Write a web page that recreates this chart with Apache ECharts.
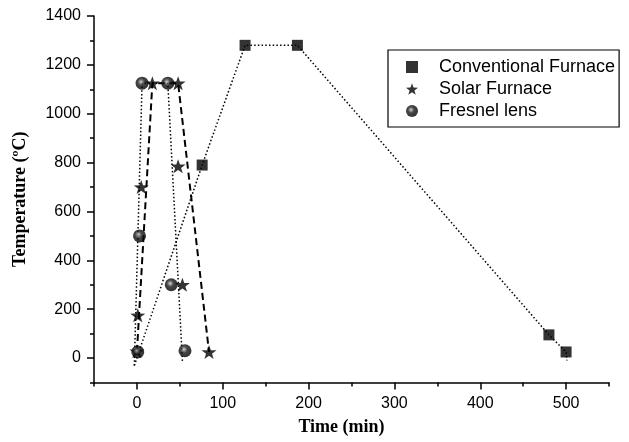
<!DOCTYPE html>
<html>
<head>
<meta charset="utf-8">
<script src="https://cdn.jsdelivr.net/npm/echarts@6/dist/echarts.min.js"></script>
<style>html,body{margin:0;padding:0;background:#fff}#c{width:629px;height:442px}</style>
</head>
<body>
<div id="c"></div>
<script>
// Axis ticks
const xMajor = [0, 100, 200, 300, 400, 500];
const xMinor = [-50, 50, 150, 250, 350, 450, 550];
const yMajor = [0, 200, 400, 600, 800, 1000, 1200, 1400];
const yMinor = [-100, 100, 300, 500, 700, 900, 1100, 1300];

// Markers (time in min, temperature in ºC)
const convTime = [76, 126, 187, 480, 500];
const convTemp = [790, 1280, 1280, 95, 25];
const solarTime = [0, 1, 5, 18, 48, 48, 53, 84];
const solarTemp = [28, 175, 700, 1125, 1125, 785, 300, 25];
const fresTime = [1, 3, 6, 36, 40, 56];
const fresTemp = [25, 500, 1125, 1125, 300, 30];

// Connecting profile lines as drawn
const convLineTime = [-3, 76, 126, 187, 480, 500, 501];
const convLineTemp = [-30, 790, 1280, 1280, 95, 25, -10];
const fresLineTime = [-3, 6, 36, 53];
const fresLineTemp = [-30, 1125, 1125, -12];
const solarLineTime = [0, 18, 48, 84];
const solarLineTemp = [25, 1125, 1125, 25];

const names = ['Conventional Furnace', 'Solar Furnace', 'Fresnel lens'];

const zip = (a, b) => a.map((v, i) => [v, b[i]]);
const star = 'path://M100,0 L123.5,67.6 L195.1,69.1 L138,112.4 L158.8,180.9 L100,140 L41.2,180.9 L62,112.4 L4.9,69.1 L76.5,67.6 Z';
const ball = new echarts.graphic.RadialGradient(0.42, 0.4, 0.6, [
  {offset: 0, color: '#d8d8d8'},
  {offset: 0.18, color: '#777'},
  {offset: 0.45, color: '#151515'},
  {offset: 1, color: '#000'}
]);

const chart = echarts.init(document.getElementById('c'), null, {renderer: 'canvas'});
const tickFont = {fontFamily: 'Liberation Sans, Arial, sans-serif', fontSize: 16, color: '#000'};
const titleFont = {fontFamily: 'Liberation Serif, Times New Roman, serif', fontSize: 18, fontWeight: 'bold', color: '#000'};
const plain = v => String(v);

chart.setOption({
  animation: false,
  backgroundColor: '#fff',
  grid: {left: 94, right: 20, top: 16, bottom: 59.5, containLabel: false},
  legend: {
    orient: 'vertical',
    left: 388, top: 50,
    data: names,
    itemWidth: 12, itemHeight: 12,
    itemGap: 4,
    padding: [8, 4, 7, 18],
    borderColor: '#000', borderWidth: 1.2,
    textStyle: {fontFamily: 'Liberation Sans, Arial, sans-serif', fontSize: 18, color: '#000', padding: [0, 0, 0, 16]}
  },
  xAxis: [{
    type: 'value', min: -50, max: 550,
    name: 'Time (min)', nameLocation: 'middle', nameGap: 36,
    nameTextStyle: Object.assign({}, titleFont, {padding: [0, 20, 0, 0]}),
    axisLine: {show: true, onZero: false, lineStyle: {color: '#000', width: 1.5}},
    axisTick: {show: true, customValues: xMajor, length: 7, lineStyle: {color: '#000', width: 1.5}},
    axisLabel: {customValues: xMajor, margin: 13, formatter: plain, ...tickFont},
    splitLine: {show: false}
  }, {
    type: 'value', min: -50, max: 550, position: 'bottom',
    axisLine: {show: false, onZero: false},
    axisTick: {show: true, customValues: xMinor, length: 4, lineStyle: {color: '#000', width: 1.5}},
    axisLabel: {show: false},
    splitLine: {show: false}
  }],
  yAxis: [{
    type: 'value', min: -100, max: 1400,
    name: 'Temperature (ºC)', nameLocation: 'middle', nameGap: 65, nameTextStyle: titleFont,
    axisLine: {show: true, onZero: false, lineStyle: {color: '#000', width: 1.5}},
    axisTick: {show: true, customValues: yMajor, length: 7, lineStyle: {color: '#000', width: 1.5}},
    axisLabel: {customValues: yMajor, margin: 13, formatter: plain, ...tickFont},
    splitLine: {show: false}
  }, {
    type: 'value', min: -100, max: 1400, position: 'left',
    axisLine: {show: false, onZero: false},
    axisTick: {show: true, customValues: yMinor, length: 4, lineStyle: {color: '#000', width: 1.5}},
    axisLabel: {show: false},
    splitLine: {show: false}
  }],
  series: [
    {name: 'convLine', type: 'line', data: zip(convLineTime, convLineTemp), symbol: 'none', silent: true, z: 1,
     lineStyle: {color: '#000', width: 1.5, type: [1.5, 2.2]}},
    {name: 'fresLine', type: 'line', data: zip(fresLineTime, fresLineTemp), symbol: 'none', silent: true, z: 1,
     lineStyle: {color: '#000', width: 1.5, type: [1.5, 2.2]}},
    {name: 'solarLine', type: 'line', data: zip(solarLineTime, solarLineTemp), symbol: 'none', silent: true, z: 1,
     lineStyle: {color: '#000', width: 2, type: [7, 4]}},
    {name: names[0], type: 'scatter', data: zip(convTime, convTemp), symbol: 'rect', symbolSize: 11, z: 3,
     itemStyle: {color: '#000'}},
    {name: names[1], type: 'scatter', data: zip(solarTime, solarTemp), symbol: star, symbolSize: [15, 14], z: 3,
     itemStyle: {color: '#000'}},
    {name: names[2], type: 'scatter', data: zip(fresTime, fresTemp), symbol: 'circle', symbolSize: 13, z: 4,
     itemStyle: {color: ball}}
  ]
});
</script>
</body>
</html>
